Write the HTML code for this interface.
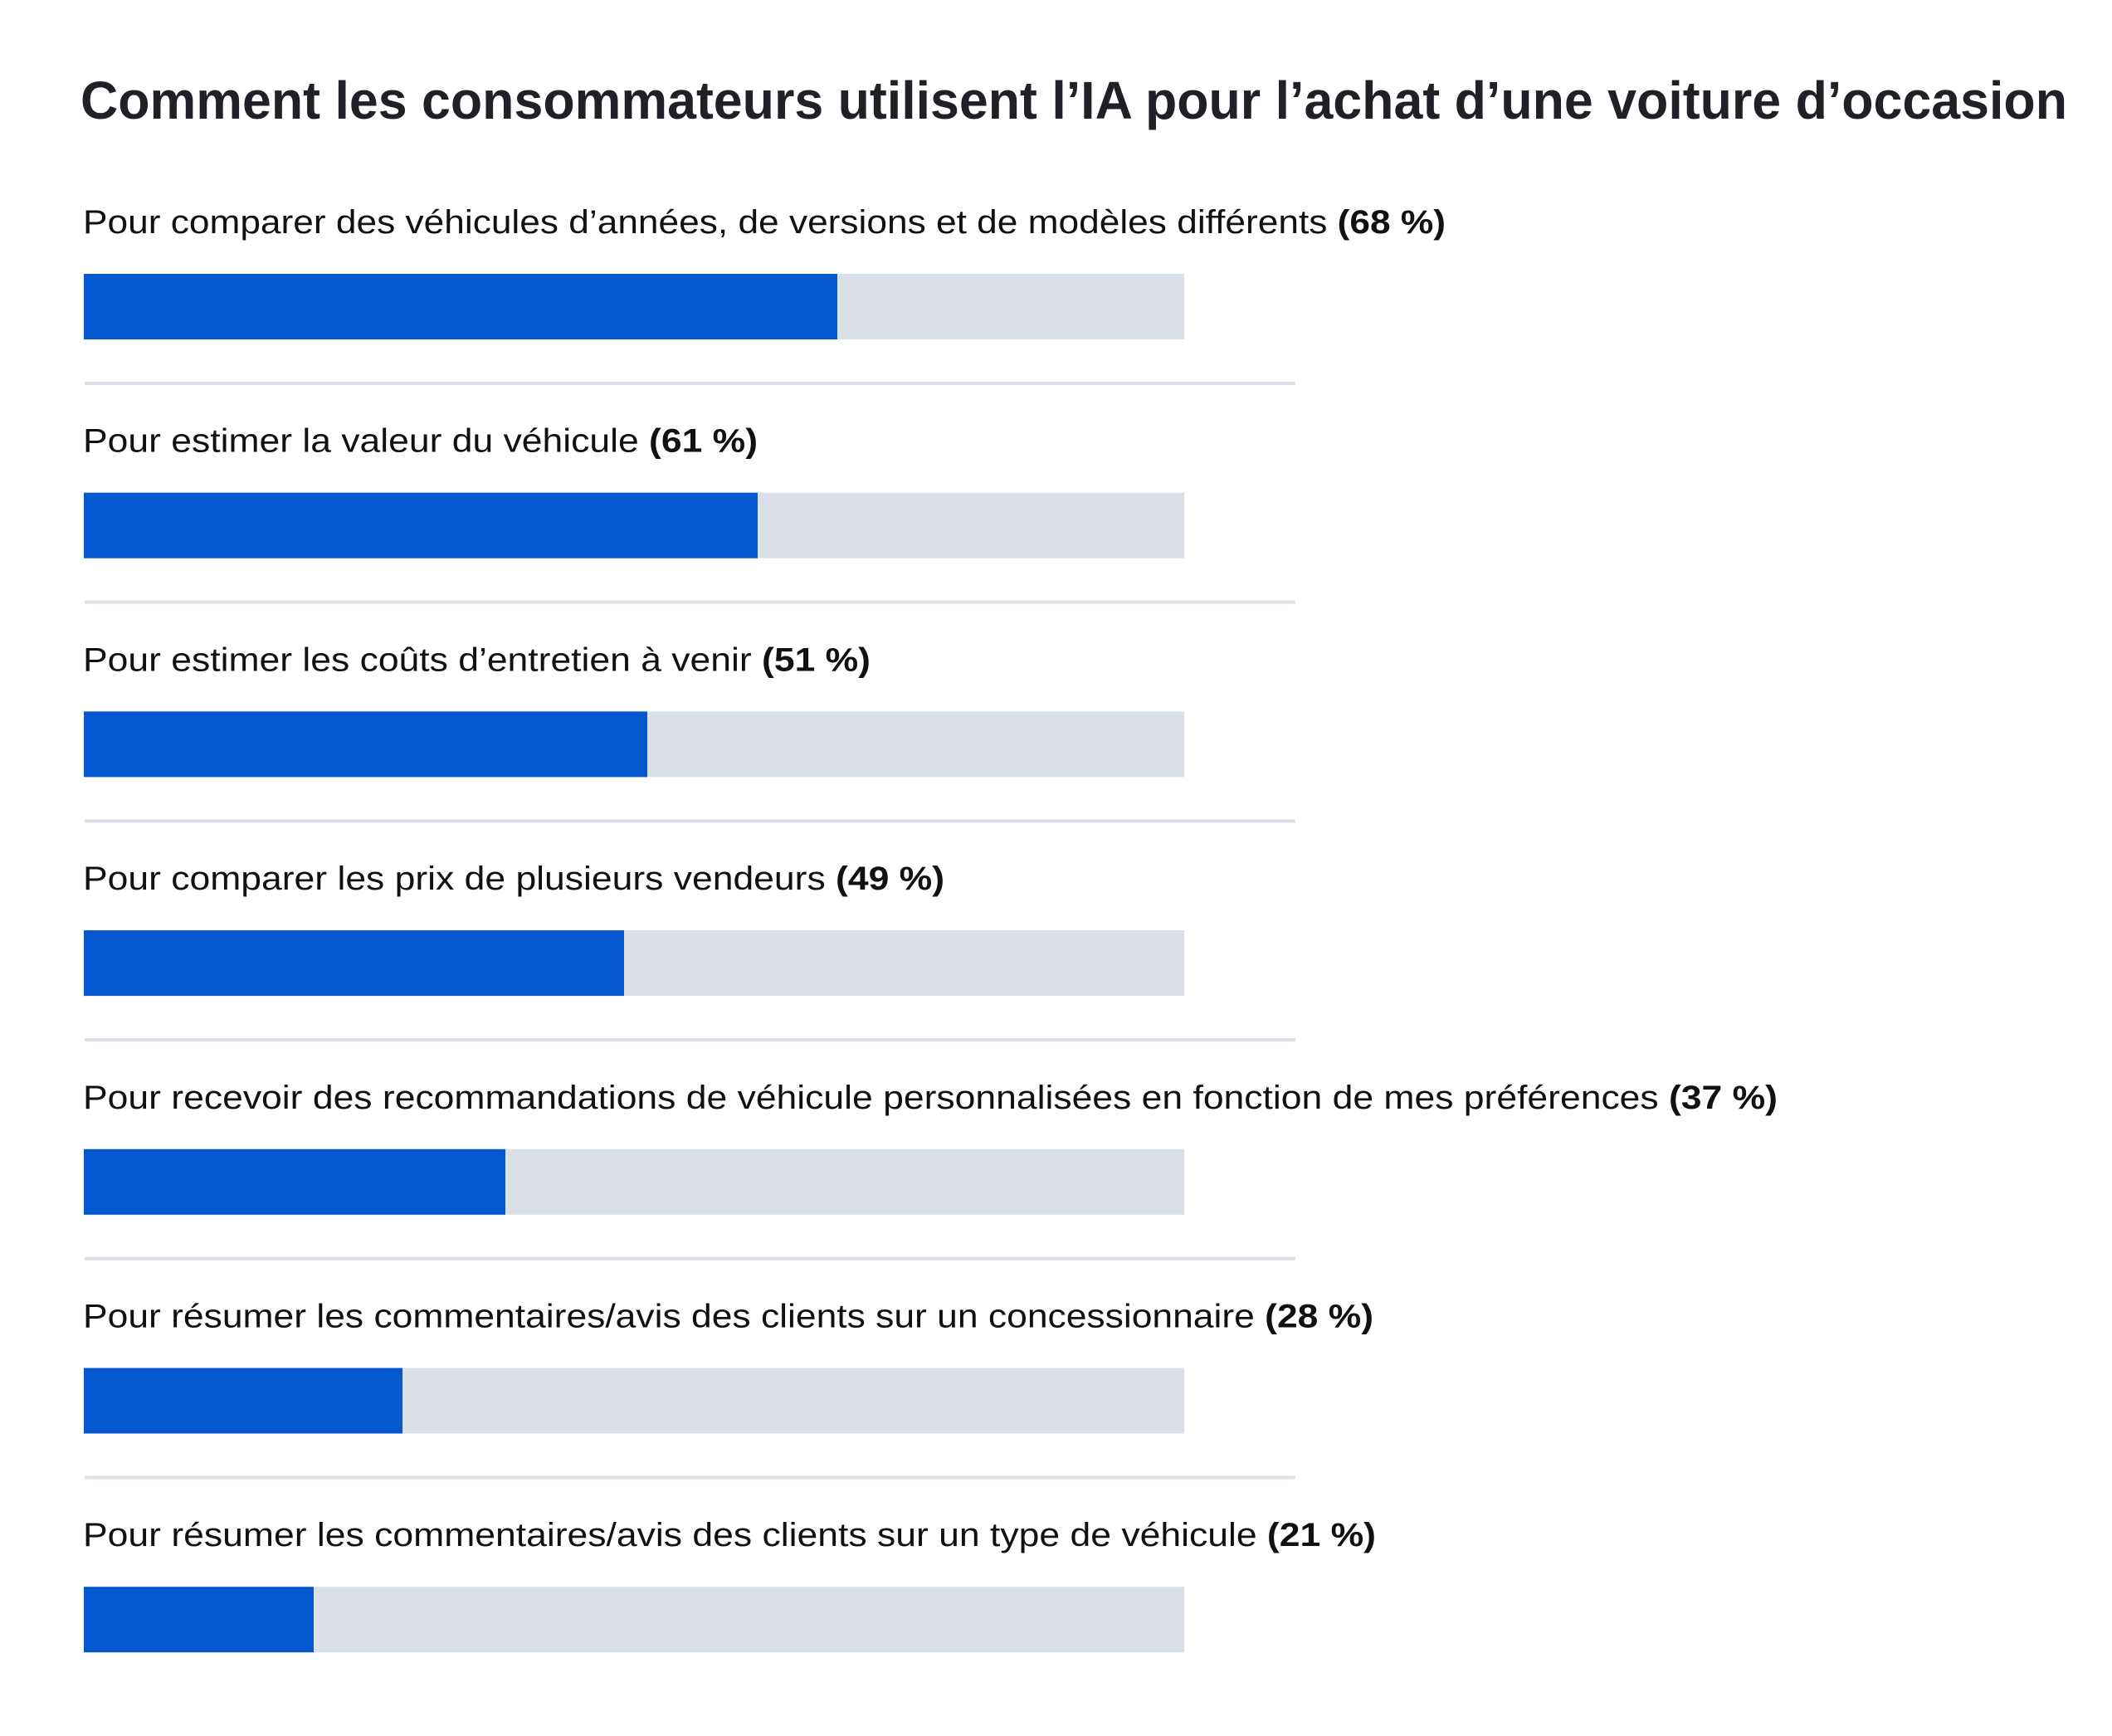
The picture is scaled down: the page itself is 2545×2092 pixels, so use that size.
<!DOCTYPE html>
<html><head><meta charset="utf-8"><style>html,body{margin:0;padding:0;background:#fff}svg{display:block}</style></head>
<body>
<svg width="2545" height="2092" viewBox="0 0 2545 2092" xmlns="http://www.w3.org/2000/svg">
<rect width="2545" height="2092" fill="#fff"/>
<text x="97" y="143" font-family="Liberation Sans, sans-serif" font-weight="900" font-size="64" fill="#1f2126" textLength="2394" lengthAdjust="spacingAndGlyphs">Comment les consommateurs utilisent l’IA pour l’achat d’une voiture d’occasion</text>
<g font-family="Liberation Sans, sans-serif" font-size="40" fill="#111">
<text x="100" y="281" textLength="1642" lengthAdjust="spacingAndGlyphs">Pour comparer des véhicules d’années, de versions et de modèles différents <tspan font-weight="bold">(68 %)</tspan></text>
<text x="100" y="544.7" textLength="813" lengthAdjust="spacingAndGlyphs">Pour estimer la valeur du véhicule <tspan font-weight="bold">(61 %)</tspan></text>
<text x="100" y="808.4" textLength="949" lengthAdjust="spacingAndGlyphs">Pour estimer les coûts d’entretien à venir <tspan font-weight="bold">(51 %)</tspan></text>
<text x="100" y="1072.1" textLength="1038" lengthAdjust="spacingAndGlyphs">Pour comparer les prix de plusieurs vendeurs <tspan font-weight="bold">(49 %)</tspan></text>
<text x="100" y="1335.8" textLength="2042" lengthAdjust="spacingAndGlyphs">Pour recevoir des recommandations de véhicule personnalisées en fonction de mes préférences <tspan font-weight="bold">(37 %)</tspan></text>
<text x="100" y="1599.5" textLength="1555" lengthAdjust="spacingAndGlyphs">Pour résumer les commentaires/avis des clients sur un concessionnaire <tspan font-weight="bold">(28 %)</tspan></text>
<text x="100" y="1863.2" textLength="1558" lengthAdjust="spacingAndGlyphs">Pour résumer les commentaires/avis des clients sur un type de véhicule <tspan font-weight="bold">(21 %)</tspan></text>
</g>
<g>
<rect x="101" y="330" width="1326" height="79" fill="#dbdfe7"/><rect x="101" y="330" width="908" height="79" fill="#0558cf"/>
<rect x="101" y="593.7" width="1326" height="79" fill="#dbdfe7"/><rect x="101" y="593.7" width="812" height="79" fill="#0558cf"/>
<rect x="101" y="857.4" width="1326" height="79" fill="#dbdfe7"/><rect x="101" y="857.4" width="679" height="79" fill="#0558cf"/>
<rect x="101" y="1121.1" width="1326" height="79" fill="#dbdfe7"/><rect x="101" y="1121.1" width="651" height="79" fill="#0558cf"/>
<rect x="101" y="1384.8" width="1326" height="79" fill="#dbdfe7"/><rect x="101" y="1384.8" width="508" height="79" fill="#0558cf"/>
<rect x="101" y="1648.5" width="1326" height="79" fill="#dbdfe7"/><rect x="101" y="1648.5" width="384" height="79" fill="#0558cf"/>
<rect x="101" y="1912.2" width="1326" height="79" fill="#dbdfe7"/><rect x="101" y="1912.2" width="277" height="79" fill="#0558cf"/>
</g>
<g fill="#dde0e8">
<rect x="102" y="460" width="1459" height="4"/>
<rect x="102" y="723.7" width="1459" height="4"/>
<rect x="102" y="987.4" width="1459" height="4"/>
<rect x="102" y="1251.1" width="1459" height="4"/>
<rect x="102" y="1514.8" width="1459" height="4"/>
<rect x="102" y="1778.5" width="1459" height="4"/>
</g>
</svg>
</body></html>
